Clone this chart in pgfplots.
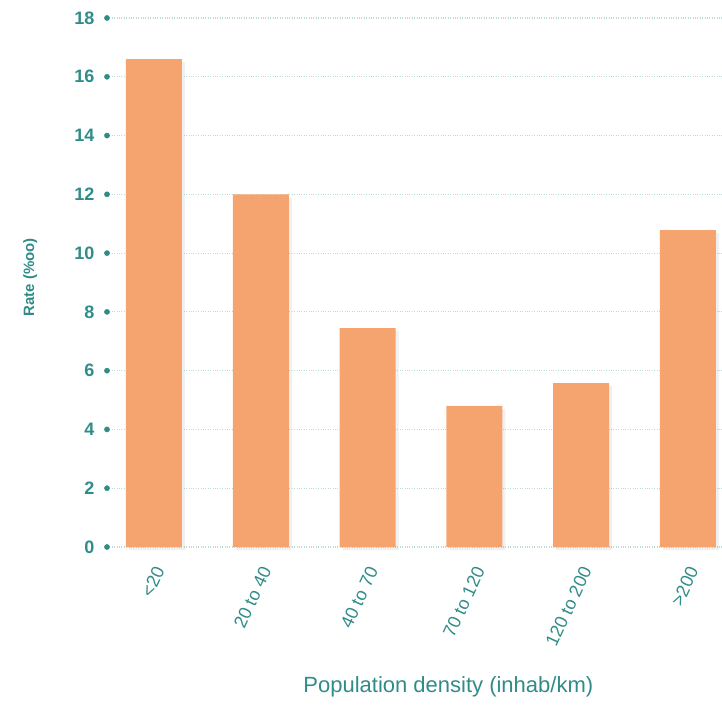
\documentclass[border=0pt]{standalone}
\usepackage{pgfplots}
\pgfplotsset{compat=1.18}
\usepackage{fontspec}
\setmainfont{Liberation Sans}
\usetikzlibrary{shadows}
\definecolor{barc}{HTML}{F5A46F}
\definecolor{tealc}{HTML}{2F8C88}
\definecolor{gridc}{HTML}{BCDAD8}
\begin{document}
\begin{tikzpicture}
\begin{axis}[
  scale only axis, width=615pt, height=529pt,
  xmin=-0.44, xmax=5.32, ymin=0, ymax=18,
  ytick={0,2,...,18}, xtick={0,...,5},
  xticklabels={<20, 20 to 40, 40 to 70, 70 to 120, 120 to 200, >200},
  axis line style={draw=none}, major tick length=0pt,
  ymajorgrids, grid style={gridc, dotted, line width=1.2pt},
  clip=false,
  /pgf/number format/assume math mode=true,
  y tick label style={font=\fontsize{18}{20}\selectfont\bfseries, text=tealc, xshift=-9pt},
  x tick label style={font=\fontsize{18}{20}\selectfont, text=tealc, yshift=-18pt, xshift=7pt, rotate=65, anchor=east},
  ylabel={Rate (\%oo)},
  ylabel style={font=\fontsize{15}{17}\selectfont\bfseries, text=tealc, at={(axis description cs:-0.125,0.51)}, anchor=center, rotate=0},
  xlabel={Population density (inhab/km)},
  xlabel style={font=\fontsize{22}{24}\selectfont, text=tealc, at={(axis description cs:0.555,-0.265)}, anchor=center},
]
\addplot[ybar, bar width=56pt, fill=barc, draw=none,
  drop shadow={shadow xshift=3pt, shadow yshift=-3pt, opacity=0.12}]
  coordinates {(0,16.6) (1,12.0) (2,7.45) (3,4.8) (4,5.58) (5,10.78)};
\addplot[only marks, mark=*, mark size=2.6pt, color=tealc]
  coordinates {(-0.44,0) (-0.44,2) (-0.44,4) (-0.44,6) (-0.44,8) (-0.44,10) (-0.44,12) (-0.44,14) (-0.44,16) (-0.44,18)};
\coordinate (sw) at (rel axis cs:0,0);
\coordinate (ne) at (rel axis cs:1,1);
\end{axis}
\pgfresetboundingbox
\path ([shift={(-107pt,-157pt)}]sw) rectangle ([shift={(0pt,18pt)}]ne);
\end{tikzpicture}
\end{document}
